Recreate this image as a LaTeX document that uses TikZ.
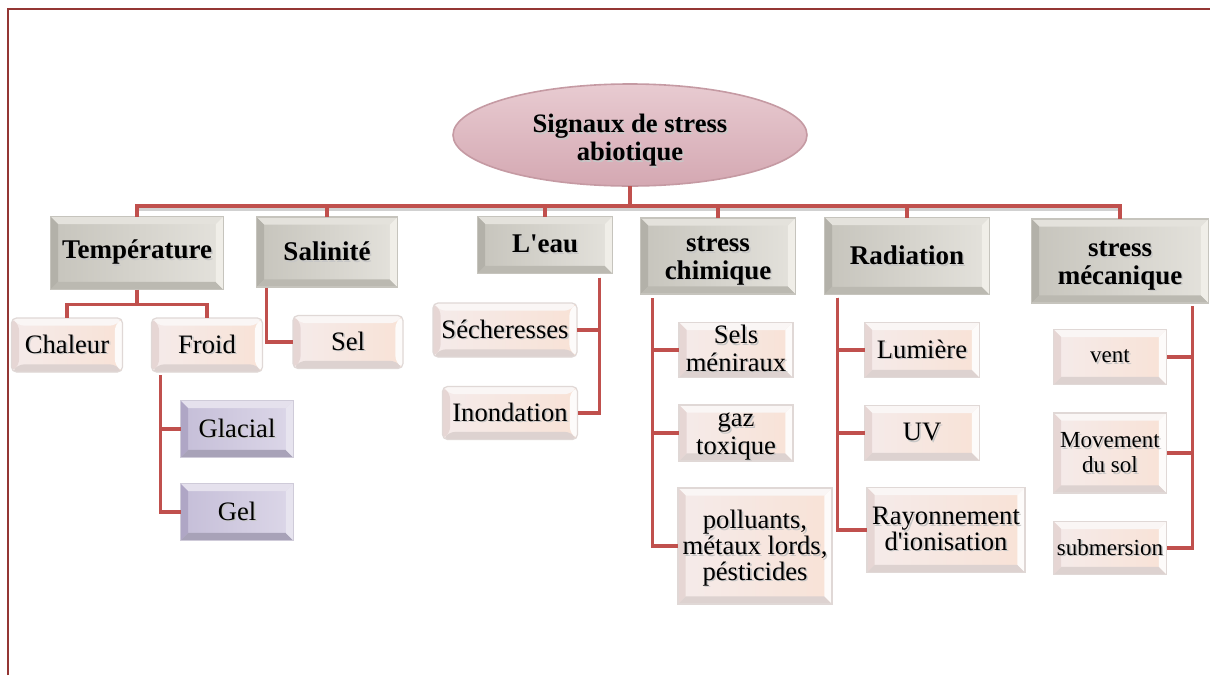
\documentclass[tikz,border=0pt]{standalone}
\usepackage{fontspec}
\setmainfont{Liberation Serif}[Ligatures=TeXOff]
\usetikzlibrary{shapes.geometric}

% connector and frame colours
\definecolor{cRed}{HTML}{C0504D}
\definecolor{cFrame}{HTML}{943634}
% grey bevel family (category boxes)
\definecolor{gF1}{HTML}{C6C4BC}
\definecolor{gF2}{HTML}{E4E2DC}
\definecolor{gT}{HTML}{E4E2DC}
\definecolor{gL}{HTML}{B3B1A9}
\definecolor{gB}{HTML}{BBB9B1}
\definecolor{gR}{HTML}{F0EEE8}
\definecolor{gO}{HTML}{C6C4BD}
% peach bevel family (leaf boxes)
\definecolor{pF1}{HTML}{F5EBEA}
\definecolor{pF2}{HTML}{F8E2D6}
\definecolor{pT}{HTML}{FAF6F5}
\definecolor{pL}{HTML}{E6D6D4}
\definecolor{pB}{HTML}{DDD2D0}
\definecolor{pR}{HTML}{FDFBFA}
\definecolor{pO}{HTML}{E0D8D6}
% lavender bevel family
\definecolor{lF1}{HTML}{C5BED8}
\definecolor{lF2}{HTML}{DCD7E8}
\definecolor{lT}{HTML}{E5E1ED}
\definecolor{lL}{HTML}{AFA6C5}
\definecolor{lB}{HTML}{A8A2B8}
\definecolor{lR}{HTML}{E7E4EF}
\definecolor{lO}{HTML}{CFCBD9}
% ellipse
\definecolor{eTop}{HTML}{E8CBD1}
\definecolor{eBot}{HTML}{D4A8B2}
\definecolor{eO}{HTML}{C59AA3}

% text with a soft shadow underneath
\newcommand\gl[1]{\leavevmode\rlap{\hspace{0.8pt}\raisebox{-0.8pt}{\color{black!22}#1}}#1}
% centred stack of lines, lowered without changing its reported size
\newcommand\stk[2]{\raisebox{-#1}[\height][\depth]{\begin{tabular}{@{}c@{}}#2\end{tabular}}}

\newcommand\bw{3.8pt}

\tikzset{
  x=0.5pt, y=-0.5pt,
  bevel/.style={
    draw=#1O, line width=0.6pt,
    path picture={
      \path (path picture bounding box.north west) coordinate (bNW)
            (path picture bounding box.north east) coordinate (bNE)
            (path picture bounding box.south west) coordinate (bSW)
            (path picture bounding box.south east) coordinate (bSE);
      \shade[left color=#1F1, right color=#1F2] (bNW) rectangle (bSE);
      \fill[#1T] (bNW) -- (bNE) -- ([xshift=-\bw,yshift=-\bw]bNE)
                 -- ([xshift=\bw,yshift=-\bw]bNW) -- cycle;
      \fill[#1L] (bNW) -- (bSW) -- ([xshift=\bw,yshift=\bw]bSW)
                 -- ([xshift=\bw,yshift=-\bw]bNW) -- cycle;
      \fill[#1B] (bSW) -- (bSE) -- ([xshift=-\bw,yshift=\bw]bSE)
                 -- ([xshift=\bw,yshift=\bw]bSW) -- cycle;
      \fill[#1R] (bNE) -- (bSE) -- ([xshift=-\bw,yshift=\bw]bSE)
                 -- ([xshift=-\bw,yshift=-\bw]bNE) -- cycle;
    }},
  box/.style 2 args={minimum width=#1*0.5pt, minimum height=#2*0.5pt},
  cat/.style={bevel=g, rectangle, inner sep=0pt, outer sep=0pt, align=center,
    font=\bfseries\fontsize{13.5}{13.8}\selectfont},
  leaf/.style={bevel=p, rectangle, inner sep=0pt, outer sep=0pt, align=center,
    font=\fontsize{13.3}{13.8}\selectfont},
  leafr/.style={leaf, rounded corners=2.5pt},
  lav/.style={leaf, bevel=l},
  mleaf/.style={leaf, font=\fontsize{11.5}{12.5}\selectfont},
  rootnode/.style={ellipse, shade, top color=eTop, bottom color=eBot,
    draw=eO, line width=0.8pt, inner sep=0pt, outer sep=0pt, align=center,
    font=\bfseries\fontsize{13.3}{14}\selectfont},
  bus/.style={draw=cRed, line width=2.3pt},
  conn/.style={draw=cRed, line width=1.7pt},
  frameline/.style={draw=cFrame, line width=1.3pt},
}

\begin{document}
\begin{tikzpicture}
\useasboundingbox (0,0) rectangle (1210,675);
\fill[white] (0,0) rectangle (1210,675);

% page frame
\draw[frameline] (8,675) -- (8,9) -- (1210,9);

% root
\node[rootnode, minimum width=177pt, minimum height=51pt] (root) at (630,135)
  {\stk{3pt}{\gl{Signaux de stress}\\\gl{abiotique}}};

% categories
\node[cat, box={173}{73}] (temp) at (137,253) {\gl{Température}};
\node[cat, box={141}{70}] (sal)  at (327,252) {\gl{Salinité}};
\node[cat, box={135}{57}] (leau) at (545,245) {\gl{L'eau}};
\node[cat, box={155}{76}] (chim) at (718,256) {\stk{2pt}{\gl{stress}\\\gl{chimique}}};
\node[cat, box={165}{77}] (rad)  at (907,256) {\gl{Radiation}};
\node[cat, box={177}{84}] (mech) at (1120,261) {\stk{2pt}{\gl{stress}\\\gl{mécanique}}};

% temperature
\node[leafr, box={111}{54}] (chal)  at (67,345)  {\gl{Chaleur}};
\node[leafr, box={111}{54}] (froid) at (207,345) {\gl{Froid}};
\node[lav, box={113}{57}] (glac) at (237,429) {\gl{Glacial}};
\node[lav, box={113}{57}] (gel)  at (237,512) {\gl{Gel}};

% salinity
\node[leafr, box={110}{53}] (sel) at (348,342) {\gl{Sel}};

% water
\node[leafr, box={144}{54}] (sech)  at (505,330) {\gl{Sécheresses}};
\node[leafr, box={135}{53}] (inond) at (510,413) {\gl{Inondation}};

% chemical
\node[leaf, box={114}{55}] (sels) at (736,350) {\stk{1pt}{\gl{Sels}\\\gl{méniraux}}};
\node[leaf, box={114}{56}] (gaz)  at (736,433) {\stk{1pt}{\gl{gaz}\\\gl{toxique}}};
\node[leaf, box={154}{116}] (poll) at (755,546)
  {\stk{1.5pt}{\gl{polluants,}\\[-1pt]\gl{métaux lords,}\\[-1pt]\gl{pésticides}}};

% radiation
\node[leaf, box={115}{55}] (lum) at (922,350) {\gl{Lumière}};
\node[leaf, box={115}{55}] (uv)  at (922,433) {\gl{UV}};
\node[leaf, box={158}{85}] (ray) at (946,530) {\stk{1pt}{\gl{Rayonnement}\\[-1pt]\gl{d'ionisation}}};

% mechanical
\node[mleaf, box={113}{55}] (vent) at (1110,357) {\gl{vent}};
\node[mleaf, box={113}{80}] (mouv) at (1110,453) {\stk{1pt}{\gl{Movement}\\\gl{du sol}}};
\node[mleaf, box={113}{53}] (subm) at (1110,548) {\gl{submersion}};

% main bus
\coordinate (busc) at (630,206);
\draw[bus, draw=black!18, transform canvas={yshift=-1.2pt}] (temp.north |- busc) -- (mech.north |- busc);
\draw[bus] (root.south) -- (busc);
\draw[bus] (temp.north) |- (busc) -| (mech.north);
\draw[bus] (sal.north)  -- (sal.north |- busc);
\draw[bus] (leau.north) -- (leau.north |- busc);
\draw[bus] (chim.north) -- (chim.north |- busc);
\draw[bus] (rad.north)  -- (rad.north |- busc);

% temperature branch
\draw[conn] (temp.south) -- ++(0,15) coordinate (tj) -| (chal.north);
\draw[conn] (tj) -| (froid.north);
\draw[conn] (froid.south west) ++(9,3) |- (glac.west);
\draw[conn] (froid.south west) ++(9,3) |- (gel.west);

% salinity branch
\draw[conn] (sal.south west) ++(10,1) |- (sel.west);

% water branch
\draw[conn] (leau.south east) ++(-13,4) |- (sech.east);
\draw[conn] (leau.south east) ++(-13,4) |- (inond.east);

% chemical branch
\draw[conn] (chim.south west) ++(12,4) |- (sels.west);
\draw[conn] (chim.south west) ++(12,4) |- (gaz.west);
\draw[conn] (chim.south west) ++(12,4) |- (poll.west);

% radiation branch
\draw[conn] (rad.south west) ++(13,3) |- (lum.west);
\draw[conn] (rad.south west) ++(13,3) |- (uv.west);
\draw[conn] (rad.south west) ++(13,3) |- (ray.west);

% mechanical branch
\draw[conn] (mech.south east) ++(-16,3) |- (vent.east);
\draw[conn] (mech.south east) ++(-16,3) |- (mouv.east);
\draw[conn] (mech.south east) ++(-16,3) |- (subm.east);
\end{tikzpicture}
\end{document}
